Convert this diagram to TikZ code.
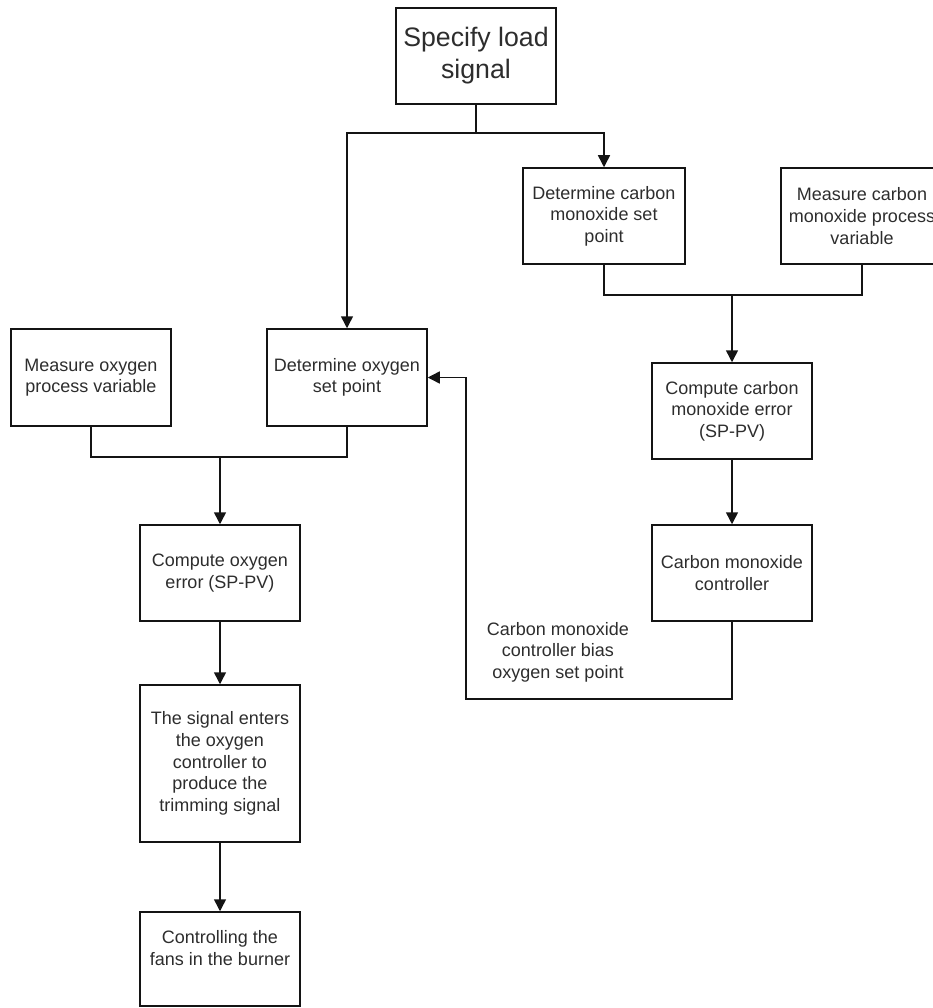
\documentclass[tikz,border=0pt]{standalone}
\usepackage{fontspec}
\setmainfont{Liberation Sans}
\usetikzlibrary{arrows.meta}
\definecolor{txtc}{RGB}{45,45,45}
\definecolor{linec}{RGB}{20,20,20}
\tikzset{
  box/.style={draw=linec, line width=1.5pt, minimum width=160pt, minimum height=96pt, inner sep=0pt, align=center, text=txtc, font=\fontsize{18}{21.6}\selectfont},
  txt/.style={inner sep=0pt, align=center, text=txtc, font=\fontsize{18}{21.6}\selectfont},
  conn/.style={draw=linec, line width=1.5pt},
  arr/.style={conn, -{Triangle[length=12pt,width=12pt]}}
}
\begin{document}
\begin{tikzpicture}[x=1pt,y=-1pt]
\useasboundingbox (0,0) rectangle (933,1008);
\clip (0,0) rectangle (933,1008);
\node[box, font=\fontsize{26.7}{32}\selectfont] (load) at (476,56) {Specify load\\signal};
\node[box, minimum width=162pt] (coSP) at (604,216) {Determine carbon\\monoxide set\\point};
\node[box, minimum width=162pt] (coPV) at (862,216) {Measure carbon\\monoxide process\\variable};
\node[box, minimum height=97pt] (o2PV) at (91,377.5) {Measure oxygen\\process variable};
\node[box, minimum height=97pt] (o2SP) at (347,377.5) {Determine oxygen\\set point};
\node[box] (coErr) at (732,411) {Compute carbon\\monoxide error\\(SP-PV)};
\node[box] (coCtrl) at (732,573) {Carbon monoxide\\controller};
\node[box] (o2Err) at (220,573) {Compute oxygen\\error (SP-PV)};
\node[box, minimum height=157pt] (sig) at (220,763.5) {The signal enters\\the oxygen\\controller to\\produce the\\trimming signal};
\node[box, minimum height=94pt] (fans) at (220,959) {};
\node[txt] (fanstxt) at (220,948) {Controlling the\\fans in the burner};
\node[txt] (bias) at (558,652) {Carbon monoxide\\controller bias\\oxygen set point};
% connectors
\coordinate (j1) at (476,133);
\draw[conn] (load.south) -- (j1);
\draw[arr] (j1) -| (o2SP.north);
\draw[arr] (j1) -| (coSP.north);
\coordinate (j2) at (732,295);
\draw[conn] (coSP.south) |- (j2);
\draw[conn] (coPV.south) |- (j2);
\draw[arr] (j2) -- (coErr.north);
\draw[arr] (coErr.south) -- (coCtrl.north);
\coordinate (c1) at (466,699);
\draw[arr] (coCtrl.south) |- (c1) |- (o2SP.east);
\coordinate (j3) at (220,457);
\draw[conn] (o2PV.south) |- (j3);
\draw[conn] (o2SP.south) |- (j3);
\draw[arr] (j3) -- (o2Err.north);
\draw[arr] (o2Err.south) -- (sig.north);
\draw[arr] (sig.south) -- (fans.north);
\end{tikzpicture}
\end{document}
